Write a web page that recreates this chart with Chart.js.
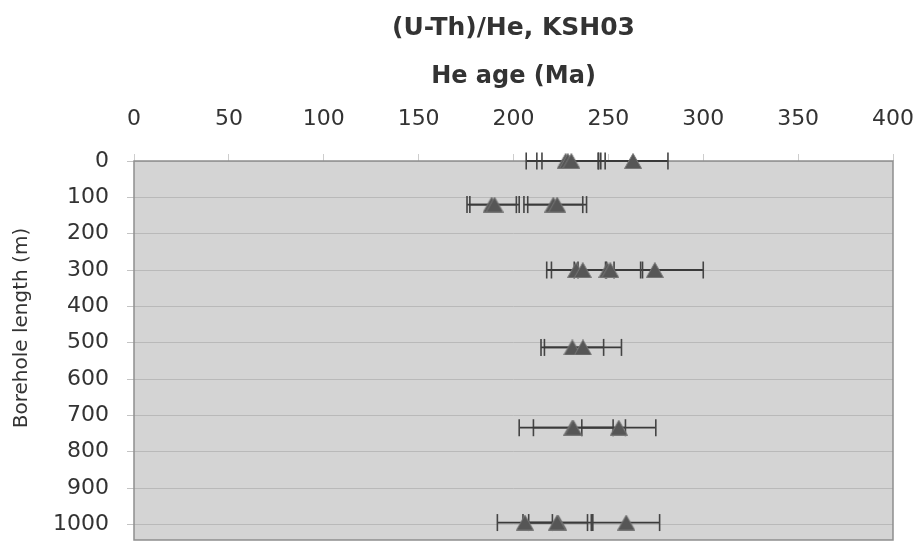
<!DOCTYPE html>
<html>
<head>
<meta charset="utf-8">
<title>(U-Th)/He, KSH03</title>
<script src="https://cdn.jsdelivr.net/npm/chart.js@4/dist/chart.umd.min.js"></script>
<style>
  html, body { margin: 0; padding: 0; background: #ffffff; overflow: hidden; }
  canvas { display: block; }
</style>
</head>
<body>
<canvas id="chart" width="917" height="541"></canvas>
<script>
// Tick labels
const ageTicks = [0, 50, 100, 150, 200, 250, 300, 350, 400];
const depthTicks = [0, 100, 200, 300, 400, 500, 600, 700, 800, 900, 1000];

// Single-grain (U-Th)/He ages along borehole KSH03
const sampleDepth = [0, 0, 0, 0, 120, 120, 120, 120, 300, 300, 300, 300, 300, 513, 513, 734, 734, 734, 995, 995, 995, 995];
const heAge      = [227.5, 228.6, 230.5, 263, 188.5, 190, 221, 223, 233, 236.5, 249.5, 251, 274.5, 231, 236.6, 231, 231.5, 255.5, 206, 223.5, 223, 259.4];
const heAgeErr   = [20.8, 16.3, 15.5, 18.4, 13, 13, 15.5, 15.5, 15.5, 16.5, 17.5, 17, 25.5, 16.5, 20.3, 28, 21, 19.5, 14.5, 15.5, 18, 17.6];

const FONT = '"DejaVu Sans", Verdana, sans-serif';
const TEXT = '#333333';

// Filled triangle marker, centred on its box
function triangleMarker(w, h, fill, stroke) {
  const c = document.createElement('canvas');
  c.width = w; c.height = h;
  const g = c.getContext('2d');
  g.beginPath();
  g.moveTo(w / 2, 0.5);
  g.lineTo(w - 0.5, h - 0.5);
  g.lineTo(0.5, h - 0.5);
  g.closePath();
  g.fillStyle = fill;
  g.fill();
  g.strokeStyle = stroke;
  g.lineWidth = 1;
  g.stroke();
  return c;
}
const tri = triangleMarker(18, 16, '#565656', '#777777');

// One horizontal error bar (with end caps) per grain
const errorBars = heAge.map((a, i) => ({
  data: [
    { x: a - heAgeErr[i], y: sampleDepth[i] },
    { x: a + heAgeErr[i], y: sampleDepth[i] }
  ],
  showLine: true,
  borderColor: '#3a3a3a',
  borderWidth: 1.8,
  pointStyle: 'line',
  rotation: 90,
  pointRadius: 8.5,
  pointBorderColor: '#444444',
  pointBorderWidth: 1.6,
  clip: false,
  order: 2
}));

const ages = {
  data: heAge.map((a, i) => ({ x: a, y: sampleDepth[i] })),
  pointStyle: tri,
  pointRadius: 9,
  clip: false,
  order: 0
};

// Grey plot area with a thin frame
const plotFrame = {
  id: 'plotFrame',
  beforeDraw(chart) {
    const { ctx, chartArea: a } = chart;
    ctx.save();
    ctx.fillStyle = '#d4d4d4';
    ctx.fillRect(a.left, a.top, a.right - a.left, a.bottom - a.top);
    ctx.restore();
  },
  beforeDatasetsDraw(chart) {
    const { ctx, chartArea: a } = chart;
    ctx.save();
    ctx.strokeStyle = '#8e8e8e';
    ctx.lineWidth = 1.5;
    ctx.strokeRect(a.left, a.top, a.right - a.left, a.bottom - a.top);
    ctx.restore();
  }
};

// Vertical axis title
const depthTitle = {
  id: 'depthTitle',
  afterDraw(chart) {
    const { ctx } = chart;
    ctx.save();
    ctx.translate(22, 328);
    ctx.rotate(-Math.PI / 2);
    ctx.font = '20px ' + FONT;
    ctx.fillStyle = TEXT;
    ctx.textAlign = 'center';
    ctx.textBaseline = 'middle';
    ctx.fillText('Borehole length (m)', 0, 0);
    ctx.restore();
  }
};

new Chart(document.getElementById('chart'), {
  type: 'scatter',
  data: { datasets: [ages, ...errorBars] },
  plugins: [plotFrame, depthTitle],
  options: {
    responsive: false,
    animation: false,
    devicePixelRatio: 1,
    layout: { autoPadding: false, padding: { left: 0, right: 24, top: 0, bottom: 1 } },
    plugins: {
      legend: { display: false },
      tooltip: { enabled: false },
      title: {
        display: true,
        fullSize: false,
        text: '(U-Th)/He, KSH03',
        color: TEXT,
        font: { family: FONT, size: 25, weight: 'bold' },
        padding: { top: 13, bottom: 0 }
      }
    },
    scales: {
      x: {
        type: 'linear',
        position: 'top',
        min: 0,
        max: 400,
        afterBuildTicks: s => { s.ticks = ageTicks.map(v => ({ value: v })); },
        afterFit: s => { s.height = 118; s.paddingLeft = 0; s.paddingRight = 0; },
        ticks: { color: TEXT, font: { family: FONT, size: 22 }, padding: 22, maxRotation: 0, callback: v => String(v) },
        grid: { drawOnChartArea: false, drawTicks: true, tickLength: 7, color: '#cdcdcd' },
        border: { display: false },
        title: {
          display: true,
          text: 'He age (Ma)',
          color: TEXT,
          font: { family: FONT, size: 24, weight: 'bold' },
          padding: { top: 19, bottom: 0 }
        }
      },
      y: {
        type: 'linear',
        reverse: true,
        min: 0,
        max: 1043,
        afterBuildTicks: s => { s.ticks = depthTicks.map(v => ({ value: v })); },
        afterFit: s => { s.width = 134; s.paddingTop = 0; s.paddingBottom = 0; },
        ticks: { color: TEXT, font: { family: FONT, size: 22 }, padding: 18, callback: v => String(v) },
        grid: { color: '#b9b9b9', lineWidth: 1, tickLength: 7, tickColor: '#c4c4c4' },
        border: { display: false },
        title: { display: false }
      }
    }
  }
});
</script>
</body>
</html>
